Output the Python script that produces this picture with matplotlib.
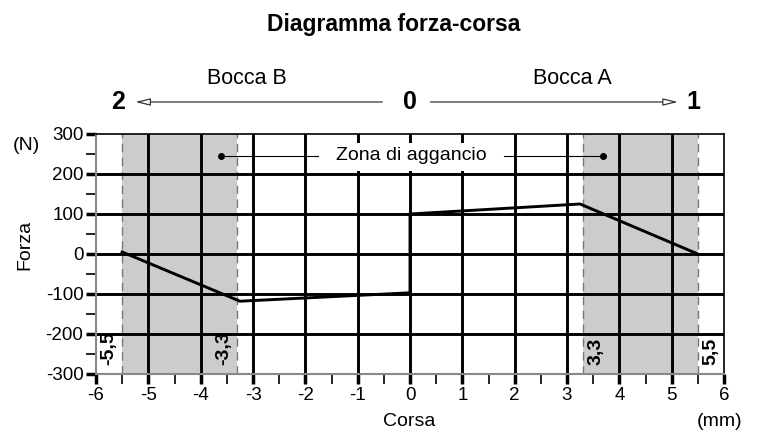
import matplotlib
matplotlib.use("Agg")
import matplotlib.pyplot as plt
from matplotlib.patches import Rectangle
import numpy as np

plt.rcParams['font.family'] = ['Liberation Sans', 'DejaVu Sans']
plt.rcParams['axes.unicode_minus'] = False

# force-stroke curve
corsa = [-5.5, -3.25, 0, 0, 3.25, 5.5]
forza = [5, -118, -97, 100, 125, 0]

# engagement zones
zone_edges = [(-5.5, -3.3), (3.3, 5.5)]
zone_labels = ["-5,5", "-3,3", "3,3", "5,5"]
zone_label_x = [-5.5, -3.3, 3.3, 5.5]

xticks = np.arange(-6, 7, 1)
yticks = np.arange(-300, 301, 100)

fig = plt.figure(figsize=(7.6, 4.32), dpi=100)
ax = fig.add_axes([96/760, 58/432, (724-96)/760, (374-134)/432])

ax.set_xlim(-6, 6)
ax.set_ylim(-300, 300)

# shaded zones
for x0, x1 in zone_edges:
    ax.axvspan(x0, x1, color='#cccccc', lw=0, zorder=0)
    for xv in (x0, x1):
        ax.axvline(xv, color='#777777', lw=1, ls=(0, (6, 4)), zorder=1)

# grid
for xv in range(-5, 6):
    ax.axvline(xv, color='black', lw=2.1, zorder=2)
for yv in range(-200, 201, 100):
    ax.axhline(yv, color='black', lw=2.1, zorder=2)

ax.plot(corsa, forza, color='black', lw=2.1, zorder=4, solid_joinstyle='miter')

# zone labels (rotated)
for xv, lab in zip(zone_label_x, zone_labels):
    side = -1 if xv < 0 else 1
    ax.text(xv + side * 0.09, -277, lab, rotation=90,
            ha='right' if side < 0 else 'left', va='bottom',
            fontsize=14, fontweight='bold', zorder=5)

# Zona di aggancio
ax.add_patch(Rectangle((-1.75, 208), 3.54, 69, facecolor='white', edgecolor='none', zorder=3))
ax.text(0.03, 245, "Zona di aggancio", ha='center', va='center', fontsize=14, zorder=6)
ax.plot([-3.61, -1.75], [245, 245], color='black', lw=0.8, zorder=5)
ax.plot([1.79, 3.68], [245, 245], color='black', lw=0.8, zorder=5)
ax.plot([-3.61, 3.68], [245, 245], 'o', color='black', ms=4, zorder=6)

# ticks
ax.set_xticks(xticks)
ax.set_yticks(yticks)
ax.set_xticks(np.arange(-5.5, 6, 1), minor=True)
ax.set_yticks(np.arange(-250, 300, 100), minor=True)
ax.tick_params(axis='both', which='major', direction='out', length=7.5, width=2.5,
               labelsize=13.5, color='black')
ax.tick_params(axis='both', which='minor', direction='out', length=7, width=1.2, color='black')
ax.tick_params(axis='x', pad=1.5)
ax.tick_params(axis='y', pad=1.5)

for s in ['top', 'right']:
    ax.spines[s].set_color('black')
    ax.spines[s].set_linewidth(1.2)
for s in ['left', 'bottom']:
    ax.spines[s].set_color('#888888')
    ax.spines[s].set_linewidth(1.5)

fig.text(409.5/760, 1 - 421/432, "Corsa", ha='center', va='center', fontsize=14)
fig.text(720/760, 1 - 421/432, "(mm)", ha='center', va='center', fontsize=14)
fig.text(25/760, 1 - 245/432, "Forza", ha='center', va='center', fontsize=14, rotation=90)
fig.text(26/760, 1 - 145/432, "(N)", ha='center', va='center', fontsize=14)

# arrows above plot
ax.annotate("", xy=(-5.25, 380), xytext=(-0.53, 380), annotation_clip=False,
            arrowprops=dict(arrowstyle='-|>,head_length=0.9,head_width=0.22',
                            fc='white', ec='#333333', lw=0.9, shrinkA=0, shrinkB=0))
ax.annotate("", xy=(5.12, 380), xytext=(0.39, 380), annotation_clip=False,
            arrowprops=dict(arrowstyle='-|>,head_length=0.9,head_width=0.22',
                            fc='white', ec='#333333', lw=0.9, shrinkA=0, shrinkB=0))
ax.text(-5.58, 380, "2", ha='center', va='center', fontsize=18, fontweight='bold')
ax.text(0, 380, "0", ha='center', va='center', fontsize=18, fontweight='bold')
ax.text(5.41, 380, "1", ha='center', va='center', fontsize=18, fontweight='bold')
ax.text(-3.11, 440, "Bocca B", ha='center', va='center', fontsize=15.5)
ax.text(3.11, 440, "Bocca A", ha='center', va='center', fontsize=15.5)

fig.text(394/760, 1 - 25/432, "Diagramma forza-corsa", ha='center', va='center',
         fontsize=16.5, fontweight='bold')

fig.savefig("out.png", dpi=100)
